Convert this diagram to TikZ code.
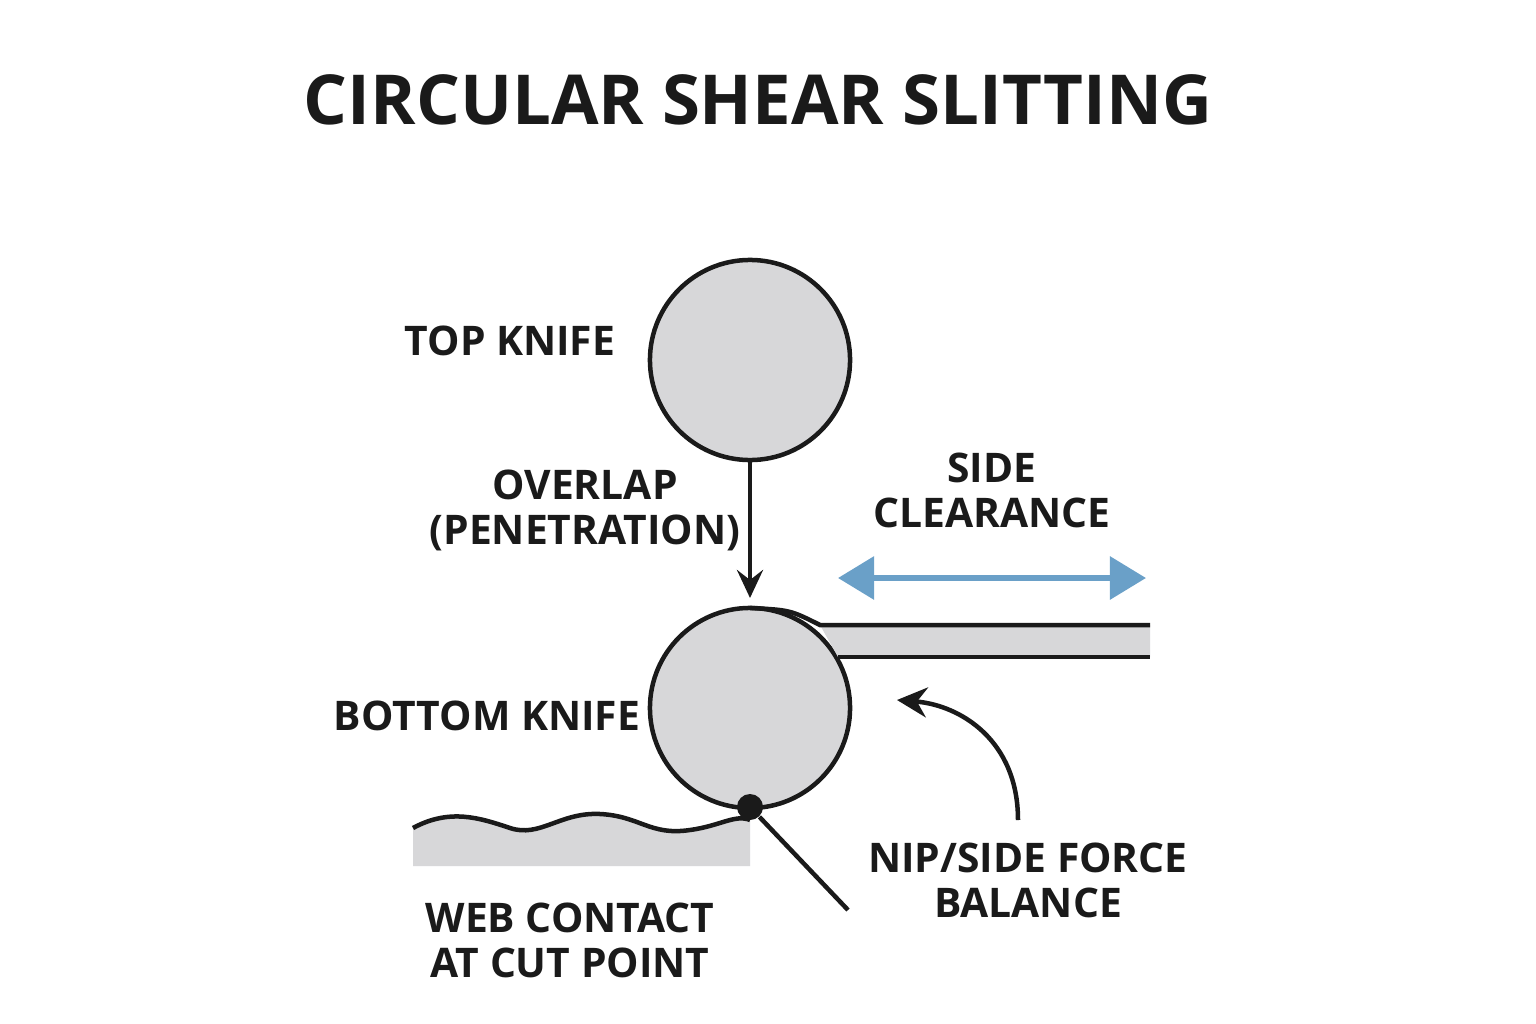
\documentclass[tikz,border=0pt]{standalone}
\usepackage{fontspec}
\setmainfont{Open Sans}
\usetikzlibrary{arrows.meta}
\definecolor{knifegray}{RGB}{215,215,217}
\definecolor{inkblack}{RGB}{26,26,26}
\definecolor{clearblue}{RGB}{106,160,200}
\tikzset{label text/.style={font=\bfseries\fontsize{11.6pt}{12.8pt}\selectfont,text=inkblack,align=center,inner sep=0pt},
knife/.style={circle,draw=inkblack,line width=0.045cm,fill=knifegray,minimum size=2cm,inner sep=0pt},
pointer/.style={draw=inkblack,line width=0.045cm}}
\begin{document}
\begin{tikzpicture}[x=0.01cm,y=-0.01cm]
\useasboundingbox[fill=white] (0,0) rectangle (1536,1024);

%% title
\node [font=\bfseries\fontsize{19.6pt}{22pt}\selectfont,text=inkblack] (title) at (758,100) {CIRCULAR SHEAR SLITTING};

%% knives
\node [knife] (top) at (750,360) {};
\node [knife] (bottom) at (750,708) {};

%% strip leaving the bottom knife
\coordinate (s1) at (750,608);
\coordinate (s2) at (820,625);
\coordinate (s3) at (1150,625);
\coordinate (s4) at (1150,657);
\coordinate (s5) at (838,657);
\fill [knifegray] (s2) -- (s3) -- (s4) -- (s5) -- cycle;
\draw [pointer] (s1) .. controls (790,610) .. (s2) -- (s3);
\draw [pointer] (s5) -- (s4);

%% web under the cut point
\coordinate (w1) at (413,828);
\coordinate (w2) at (750,820);
\fill [knifegray] (w1) .. controls (450,808) and (480,818) .. (510,828) .. controls (540,838) and (560,812) .. (600,814) .. controls (640,816) and (650,836) .. (690,830) .. controls (720,826) and (735,814) .. (w2) -- (750,866) -- (413,866) -- cycle;
\draw [pointer] (w1) .. controls (450,808) and (480,818) .. (510,828) .. controls (540,838) and (560,812) .. (600,814) .. controls (640,816) and (650,836) .. (690,830) .. controls (720,826) and (735,814) .. (w2);

%% cut point
\node [circle,fill=inkblack,minimum size=0.26cm,inner sep=0pt] (cut) at (750,807) {};
\coordinate (cutend) at (848,910);
\draw [pointer] (cut) -- (cutend);

%% arrows
\draw [pointer,-{Stealth[length=0.28cm,width=0.26cm,inset=0.1cm]}] (top.south) -- (750,598);
\draw [clearblue,line width=0.06cm,{Triangle[length=0.36cm,width=0.42cm]}-{Triangle[length=0.36cm,width=0.42cm]}] (838,578) -- (1146,578);
\coordinate (forcestart) at (1018,820);
\coordinate (forceend) at (897,700);
\draw [pointer,-{Stealth[length=0.3cm,width=0.3cm,inset=0.1cm]}] (forcestart) .. controls (1018,740) and (960,705) .. (forceend);

%% labels
\node [label text] (toplabel) at (510,341) {TOP KNIFE};
\node [label text] (overlap) at (585,510) {OVERLAP\\(PENETRATION)};
\node [label text] (clearance) at (992,490) {SIDE\\CLEARANCE};
\node [label text] (bottomlabel) at (487,716) {BOTTOM KNIFE};
\node [label text] (force) at (1028,880) {NIP/SIDE FORCE\\BALANCE};
\node [label text] (web) at (570,940) {WEB CONTACT\\AT CUT POINT};

\end{tikzpicture}
\end{document}
